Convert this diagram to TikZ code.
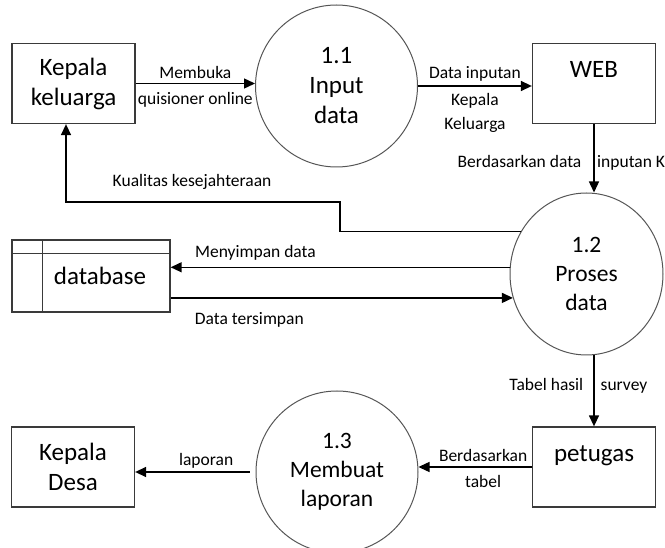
\documentclass[tikz,border=0pt]{standalone}
\usepackage{fontspec}
\setmainfont{Carlito}
\usetikzlibrary{arrows.meta,positioning,calc,shapes.geometric}
\definecolor{BoxLine}{HTML}{3A3A3A}
\definecolor{ProcLine}{HTML}{555555}
\tikzset{
    every node/.style={font=\fontsize{17.5}{23.5}\selectfont},
    entity/.style={
        draw=BoxLine, line width=1.3pt,
        minimum width=123pt, minimum height=80pt,
        align=center, inner sep=0pt,
        font=\fontsize{25}{30}\selectfont
    },
    topentity/.style={
        entity, text height=17pt, text depth=28pt
    },
    procnode/.style={
        draw=ProcLine, line width=1pt, circle, minimum size=162pt,
        align=center, inner sep=0pt,
        font=\fontsize{23.5}{29}\selectfont
    },
    storebox/.style={
        draw=BoxLine, line width=1.3pt,
        minimum width=158pt, minimum height=72pt, inner sep=0pt
    },
    flow/.style={
        -{Triangle[length=11pt,width=10pt]}, line width=1.4pt, color=black
    },
    lbl/.style={
        inner sep=0pt, align=center, font=\fontsize{17.5}{23.5}\selectfont
    },
}

\begin{document}
\begin{tikzpicture}[x=1pt,y=-1pt]
    \useasboundingbox (0,0) rectangle (665,548);
    \clip (0,0) rectangle (665,548);

    % External entities
    \node[entity] (kk) at (73.5,83.5) {Kepala\\keluarga};
    \node[topentity] (web) at (594,83.5) {WEB};
    \node[topentity] (ptg) at (594,467) {petugas};
    \node[entity] (kd) at (73,467) {Kepala\\Desa};

    % Processes
    \node[procnode, font=\fontsize{25}{30}\selectfont] (p11) at (336.5,86) {1.1\\Input\\data};
    \node[procnode, ellipse, minimum width=153pt, minimum height=162pt] (p12) at (586.5,274) {1.2\\Proses\\data};
    \node[procnode] (p13) at (337,472) {1.3\\Membuat\\laporan};

    % Data store
    \node[storebox] (db) at (91,276) {};
    \draw[draw=BoxLine, line width=1.3pt] ($(db.north west)+(0,14)$) -- ($(db.north east)+(0,14)$);
    \draw[draw=BoxLine, line width=1.3pt] ($(db.north west)+(31,0)$) -- ($(db.south west)+(31,0)$);
    \node[font=\fontsize{25}{30}\selectfont] (dbtext) at (100,276) {database};

    % Top row
    \draw[flow] (kk.east) -- node[lbl, above=4pt] (lmembuka) {Membuka}
        node[lbl, below=8pt] (lquis) {quisioner online} (kk.east -| p11.west);
    \draw[flow] (p11.east) -- node[lbl, above=4pt] (ldata) {Data inputan}
        node[lbl, below=7pt] (lkk) {Kepala\\Keluarga} (p11.east -| web.west);

    % WEB to proses data
    \draw[flow] (web.south) -- node[lbl, pos=0.64, anchor=base east, xshift=-12pt] (lberd) {Berdasarkan data}
        node[lbl, pos=0.64, anchor=base west, xshift=2.5pt] (linp) {inputan K} (web.south |- p12.north);

    % Feedback to kepala keluarga
    \coordinate (k1) at (340,202);
    \coordinate (k2) at (66,202);
    \draw[flow] (p12.147) -| (k1) -- node[lbl, pos=0.54, above=12pt] (lkual) {Kualitas kesejahteraan}
        (k2) -- (k2 |- kk.south);

    % Database flows
    \draw[flow] (p12.175) -- node[lbl, pos=0.75, above=6pt] (lsimpan) {Menyimpan data} (p12.175 -| db.east);
    \draw[flow] (p12.198 -| db.east) -- node[lbl, pos=0.23, below=14pt] (ltersimpan) {Data tersimpan} (p12.198);

    % Proses data to petugas
    \draw[flow] (ptg.north |- p12.south) -- node[lbl, pos=0.49, anchor=base east, xshift=-10pt] (ltabel) {Tabel hasil}
        node[lbl, pos=0.49, anchor=base west, xshift=6pt] (lsurvey) {survey} (ptg.north);

    % Bottom row
    \draw[flow] (ptg.west) -- node[lbl, pos=0.43, above=5pt] (lberd2) {Berdasarkan}
        node[lbl, pos=0.43, below=8pt] (ltbl) {tabel} (ptg.west -| p13.east);
    \draw[flow, shorten <=6pt] (p13.west) -- node[lbl, pos=0.41, above=3pt] (llap) {laporan} (p13.west -| kd.east);
\end{tikzpicture}
\end{document}
